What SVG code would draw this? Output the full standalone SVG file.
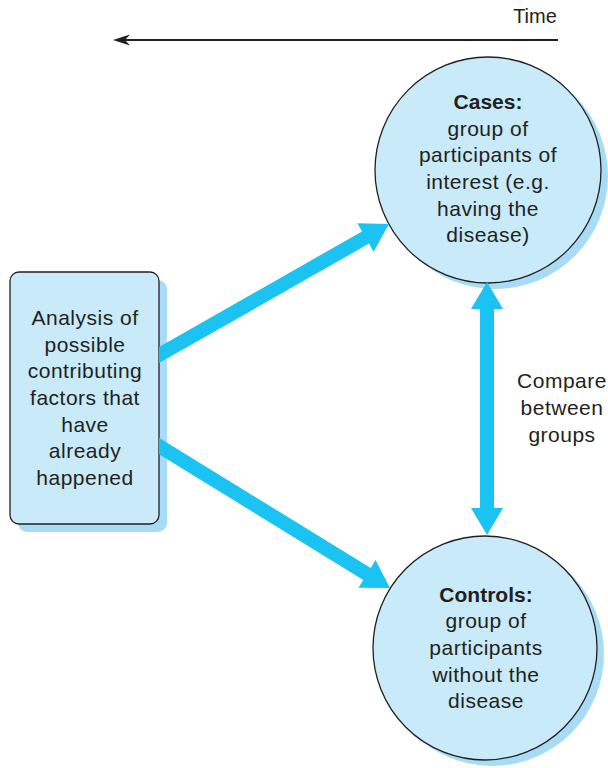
<svg xmlns="http://www.w3.org/2000/svg" width="608" height="768" viewBox="0 0 608 768">
<style>
text{font-family:"Liberation Sans",Arial,Helvetica,sans-serif;font-size:21px;letter-spacing:0.5px;fill:#231f20;text-anchor:middle}
.b{font-weight:bold;letter-spacing:0}
.t{font-size:20px;letter-spacing:0}
.fill{fill:#c8eaf9;stroke:#231f20;stroke-width:1.3}
.sh{fill:#a8dcf6}
.ar{fill:#1ac3f2}
</style>
<rect width="608" height="768" fill="#ffffff"/>
<g id="time">
<line x1="558" y1="40" x2="122" y2="40" stroke="#231f20" stroke-width="2"/>
<polygon points="113,40 130,34.5 125,40 130,45.5" fill="#231f20"/>
<text class="t" x="535" y="23">Time</text>
</g>
<g id="analysis">
<rect class="sh" x="18" y="280" width="149" height="252" rx="9"/>
<rect class="fill" x="10" y="272" width="149" height="252" rx="9"/>
<text x="85" y="325">Analysis of</text>
<text x="85" y="352">possible</text>
<text x="85" y="378">contributing</text>
<text x="85" y="405">factors that</text>
<text x="85" y="432">have</text>
<text x="85" y="458">already</text>
<text x="85" y="485">happened</text>
</g>
<g id="cases">
<circle class="sh" cx="495" cy="176" r="113"/>
<circle class="fill" cx="488" cy="170" r="113"/>
<text class="b" x="488" y="109">Cases:</text>
<text x="488" y="136">group of</text>
<text x="488" y="162">participants of</text>
<text x="488" y="189">interest (e.g.</text>
<text x="488" y="216">having the</text>
<text x="488" y="242">disease)</text>
</g>
<g id="controls">
<circle class="sh" cx="492" cy="654" r="112"/>
<circle class="fill" cx="485" cy="648" r="112"/>
<text class="b" x="486" y="602">Controls:</text>
<text x="486" y="628">group of</text>
<text x="486" y="655">participants</text>
<text x="486" y="682">without the</text>
<text x="486" y="708">disease</text>
</g>
<g id="compare-label">
<text x="562" y="388">Compare</text>
<text x="562" y="415">between</text>
<text x="562" y="442">groups</text>
</g>
<g id="connectors">
<polygon class="ar" points="159,347 362,231.4 357.4,223.3 389,224.1 373.6,251.7 369,243.6 159,363.1"/>
<polygon class="ar" points="159,437.8 370.7,567.9 375.5,560 390,588 358.5,587.8 363.3,579.9 159,454.2"/>
<polygon class="ar" points="487,282 503,309 494,309 494,508 503,508 487,535 471,508 480,508 480,309 471,309"/>
</g>
</svg>
